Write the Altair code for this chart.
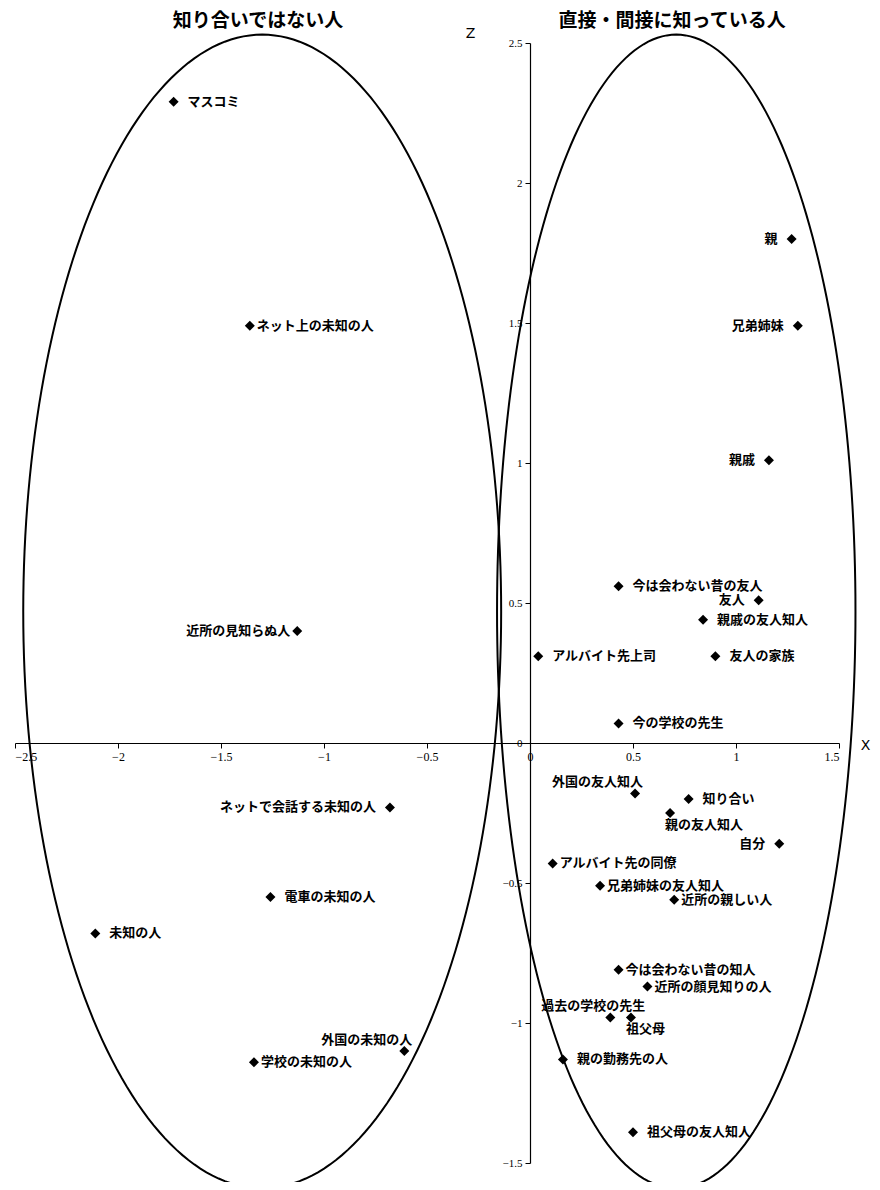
import altair as alt
import numpy as np
import pandas as pd

# ---- data ----
names = [
    "マスコミ", "ネット上の未知の人", "近所の見知らぬ人", "ネットで会話する未知の人",
    "電車の未知の人", "未知の人", "外国の未知の人", "学校の未知の人",
    "親", "兄弟姉妹", "親戚", "今は会わない昔の友人", "友人", "親戚の友人知人",
    "アルバイト先上司", "友人の家族", "今の学校の先生", "外国の友人知人", "知り合い",
    "親の友人知人", "自分", "アルバイト先の同僚", "兄弟姉妹の友人知人", "近所の親しい人",
    "今は会わない昔の知人", "近所の顔見知りの人", "過去の学校の先生", "祖父母",
    "親の勤務先の人", "祖父母の友人知人",
]
x_vals = [
    -1.73, -1.36, -1.13, -0.68, -1.26, -2.11, -0.61, -1.34,
    1.27, 1.30, 1.16, 0.43, 1.11, 0.84, 0.04, 0.90, 0.43, 0.51, 0.77,
    0.68, 1.21, 0.11, 0.34, 0.70, 0.43, 0.57, 0.39, 0.49, 0.16, 0.50,
]
z_vals = [
    2.29, 1.49, 0.40, -0.23, -0.55, -0.68, -1.10, -1.14,
    1.80, 1.49, 1.01, 0.56, 0.51, 0.44, 0.31, 0.31, 0.07, -0.18, -0.20,
    -0.25, -0.36, -0.43, -0.51, -0.56, -0.81, -0.87, -0.98, -0.98, -1.13, -1.39,
]
# label placement category for each point
label_side = [
    "R", "r", "l", "L", "R", "R", "UL", "r",
    "L", "L", "L", "R", "L", "R", "R", "R", "R", "UL", "R",
    "D", "L", "r", "r", "r", "r", "r", "UR", "D", "R", "R",
]

x_ticks = [-2.5, -2, -1.5, -1, -0.5, 0, 0.5, 1, 1.5]
z_ticks = [-1.5, -1, -0.5, 0, 0.5, 1, 1.5, 2, 2.5]

group_titles = ["知り合いではない人", "直接・間接に知っている人"]
group_title_x = [-1.32, 0.69]
group_title_z = [2.578, 2.578]

ell_names = ["unknown", "known"]
ell_cx = [-1.30, 0.71]
ell_cz = [0.47, 0.47]
ell_rx = [1.16, 0.87]
ell_rz = [2.06, 2.06]

# ---- tables ----
pts = pd.DataFrame({"name": names, "x": x_vals, "z": z_vals, "side": label_side})

theta = np.linspace(0, 2 * np.pi, 241)
ell_rows = []
for en, cx, cz, rx, rz in zip(ell_names, ell_cx, ell_cz, ell_rx, ell_rz):
    for i, t in enumerate(theta):
        ell_rows.append({"ell": en, "i": i, "x": cx + rx * np.cos(t), "z": cz + rz * np.sin(t)})
ell = pd.DataFrame(ell_rows)

heads = pd.DataFrame({"t": group_titles, "x": group_title_x, "z": group_title_z})

W, H = 824, 1120
xdom = [-2.5, 1.5]
zdom = [-1.5, 2.5]
x_axis_offset = -(H - H * (zdom[1] - 0) / (zdom[1] - zdom[0]))
y_axis_offset = -(W * (0 - xdom[0]) / (xdom[1] - xdom[0]))

xscale = alt.Scale(domain=xdom, nice=False, zero=False)
zscale = alt.Scale(domain=zdom, nice=False, zero=False)

x_axis = alt.Axis(
    values=x_ticks, format=".1~f", offset=x_axis_offset, grid=False,
    title="X", titleAngle=0, titleX=850, titleY=2, titleAlign="center",
    titleBaseline="middle", titleFont="DejaVu Sans", titleFontSize=14,
    titleFontWeight="normal", titleColor="black",
    domainColor="black", domainWidth=1.2, tickColor="black", tickSize=5,
    labelColor="black", labelFont="Liberation Serif", labelFontSize=12,
    labelPadding=3,
)
z_axis = alt.Axis(
    values=z_ticks, format=".1~f", offset=y_axis_offset, grid=False,
    title="Z", titleAngle=0, titleX=-60, titleY=-10, titleAlign="center",
    titleBaseline="middle", titleFont="DejaVu Sans", titleFontSize=14,
    titleFontWeight="normal", titleColor="black",
    domainColor="black", domainWidth=1.2, tickColor="black", tickSize=5,
    labelColor="black", labelFont="Liberation Serif", labelFontSize=11,
    labelPadding=3,
)

X = alt.X("x:Q", scale=xscale, axis=x_axis)
Z = alt.Y("z:Q", scale=zscale, axis=z_axis)
Xn = alt.X("x:Q", scale=xscale)
Zn = alt.Y("z:Q", scale=zscale)

ellipses = alt.Chart(ell).mark_line(color="black", strokeWidth=2).encode(
    x=X, y=Z, detail="ell:N", order="i:Q"
)

points = alt.Chart(pts).mark_point(
    shape="diamond", filled=True, color="black", opacity=1, size=100
).encode(x=Xn, y=Zn)

side_styles = {
    "R": dict(align="left", dx=14, dy=0),
    "r": dict(align="left", dx=7, dy=0),
    "L": dict(align="right", dx=-14, dy=0),
    "l": dict(align="right", dx=-7, dy=0),
    "UL": dict(align="right", dx=8, dy=-11),
    "UR": dict(align="right", dx=35, dy=-11),
    "D": dict(align="left", dx=-5, dy=12),
}

label_layers = []
for side, st in side_styles.items():
    label_layers.append(
        alt.Chart(pts).transform_filter(alt.datum.side == side).mark_text(
            font="Noto Sans CJK JP", fontSize=13, fontWeight="bold",
            color="black", baseline="middle", **st
        ).encode(x=Xn, y=Zn, text="name:N")
    )

headings = alt.Chart(heads).mark_text(
    font="Noto Sans CJK JP", fontSize=19, fontWeight="bold", color="black",
    align="center", baseline="middle"
).encode(x=Xn, y=Zn, text="t:N")

chart = alt.layer(ellipses, points, *label_layers, headings).properties(
    width=W, height=H,
    autosize=alt.AutoSizeParams(type="none"),
    padding={"left": 7, "top": 35, "right": 33, "bottom": 19},
    background="white",
).configure_view(stroke=None)

chart.save("out.html", embed_options={"renderer": "svg", "actions": False})
